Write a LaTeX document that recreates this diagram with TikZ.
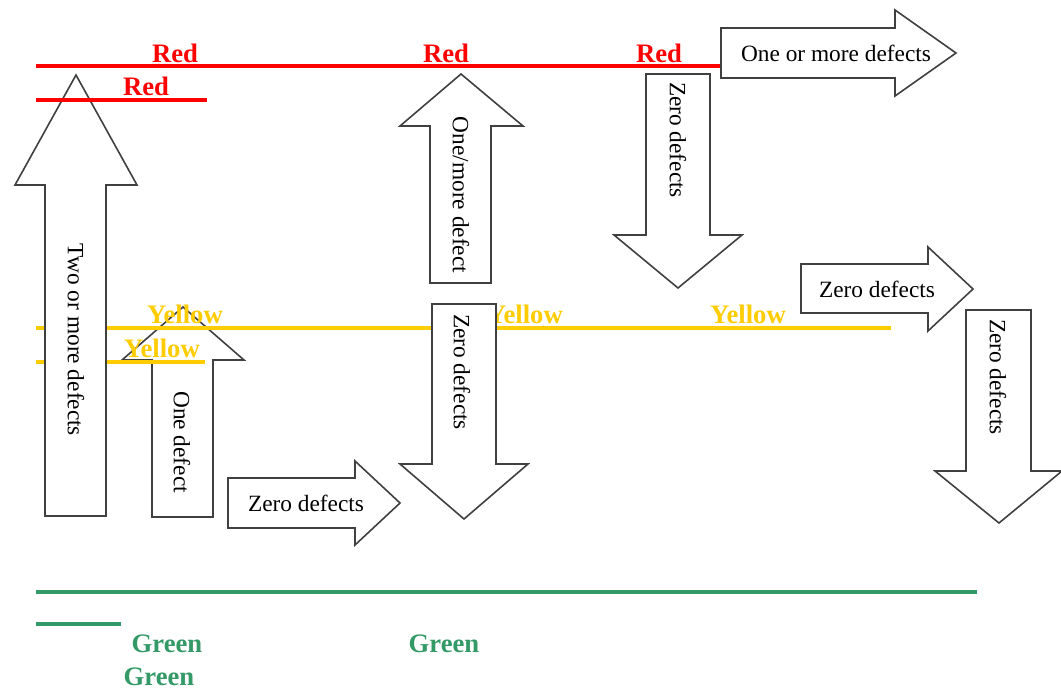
\documentclass[tikz,border=0pt]{standalone}
\usepackage{fontspec}
\setmainfont{Liberation Serif}
\usetikzlibrary{arrows.meta}
\definecolor{lvred}{HTML}{FF0000}
\definecolor{lvyellow}{HTML}{FFCC00}
\definecolor{lvgreen}{HTML}{339966}
\definecolor{edgegray}{HTML}{404040}
\tikzset{
    level/.style={line width=2.5pt},
    lvlabel/.style={font=\fontsize{20}{24}\selectfont\bfseries, anchor=base, inner sep=0pt},
    blockarrow/.style={draw=edgegray, fill=white, line width=1.2pt, line join=miter},
    arrowtext/.style={font=\fontsize{17.5}{21}\selectfont, inner sep=0pt}
}

\begin{document}
\begin{tikzpicture}[x=0.75pt, y=-0.75pt]
        \useasboundingbox (0,0) rectangle (1061,690);
        % level lines
        \draw[level, lvred] (36,66) -- (721,66);
        \draw[level, lvgreen] (36,592) -- (977,592);
        \draw[level, lvgreen] (36,624) -- (121,624);
        \node[lvlabel, lvred] (red1) at (175,62) {Red};
        \node[lvlabel, lvred] (red2) at (146,95) {Red};
        \node[lvlabel, lvred] (red3) at (446,62) {Red};
        \node[lvlabel, lvred] (red4) at (659,62) {Red};
        \node[lvlabel, lvyellow] (yellow3) at (525,323) {Yellow};
        \node[lvlabel, lvyellow] (yellow4) at (748,323) {Yellow};
        \node[lvlabel, lvgreen] (green1) at (167,652) {Green};
        \node[lvlabel, lvgreen] (green2) at (444,652) {Green};
        \node[lvlabel, lvgreen] (green3) at (159,685) {Green};
        % one defect
        \draw[blockarrow] (152,517) -- (213,517) -- (213,360) -- (244,360) -- (183,307) -- (122,360) -- (152,360) -- cycle;
        \node[arrowtext, rotate=-90] (onedef) at (182,442) {One defect};
        \draw[level, lvyellow] (36,328) -- (891,328);
        \draw[level, lvyellow] (36,362) -- (205,362);
        % two or more defects
        \draw[blockarrow] (45,516) -- (106,516) -- (106,185) -- (137,185) -- (76,75) -- (15,185) -- (45,185) -- cycle;
        \node[arrowtext, rotate=-90] (twodef) at (76,340) {Two or more defects};
        \draw[level, lvred] (36,100) -- (207,100);
        % zero defects, lower left
        \draw[blockarrow] (228,478) -- (355,478) -- (355,461) -- (400,503) -- (355,545) -- (355,528) -- (228,528) -- cycle;
        \node[arrowtext] (zero1) at (306,503) {Zero defects};
        % one/more defect
        \draw[blockarrow] (430,283) -- (491,283) -- (491,126) -- (523,126) -- (461,74) -- (400,126) -- (430,126) -- cycle;
        \node[arrowtext, rotate=-90] (onemore) at (461,195) {One/more defect};
        \draw[blockarrow] (432,304) -- (496,304) -- (496,464) -- (528,464) -- (464,519) -- (400,464) -- (432,464) -- cycle;
        \node[arrowtext, rotate=-90] (zero2) at (462,372) {Zero defects};
        % red side
        \draw[blockarrow] (646,74) -- (710,74) -- (710,235) -- (742,235) -- (678,288) -- (614,235) -- (646,235) -- cycle;
        \node[arrowtext, rotate=-90] (zero3) at (678,140) {Zero defects};
        \draw[blockarrow] (721,28) -- (895,28) -- (895,10) -- (956,53) -- (895,96) -- (895,78) -- (721,78) -- cycle;
        \node[arrowtext] (onemore2) at (836,53) {One or more defects};
        \draw[blockarrow] (801,264) -- (928,264) -- (928,247) -- (973,289) -- (928,331) -- (928,313) -- (801,313) -- cycle;
        \node[arrowtext] (zero4) at (877,289) {Zero defects};
        \draw[blockarrow] (966,310) -- (1031,310) -- (1031,471) -- (1062,471) -- (999,523) -- (935,471) -- (966,471) -- cycle;
        \node[arrowtext, rotate=-90] (zero5) at (998,377) {Zero defects};
        \node[lvlabel, lvyellow] (yellow1) at (185,323) {Yellow};
        \node[lvlabel, lvyellow] (yellow2) at (162,357) {Yellow};
\end{tikzpicture}
\end{document}
